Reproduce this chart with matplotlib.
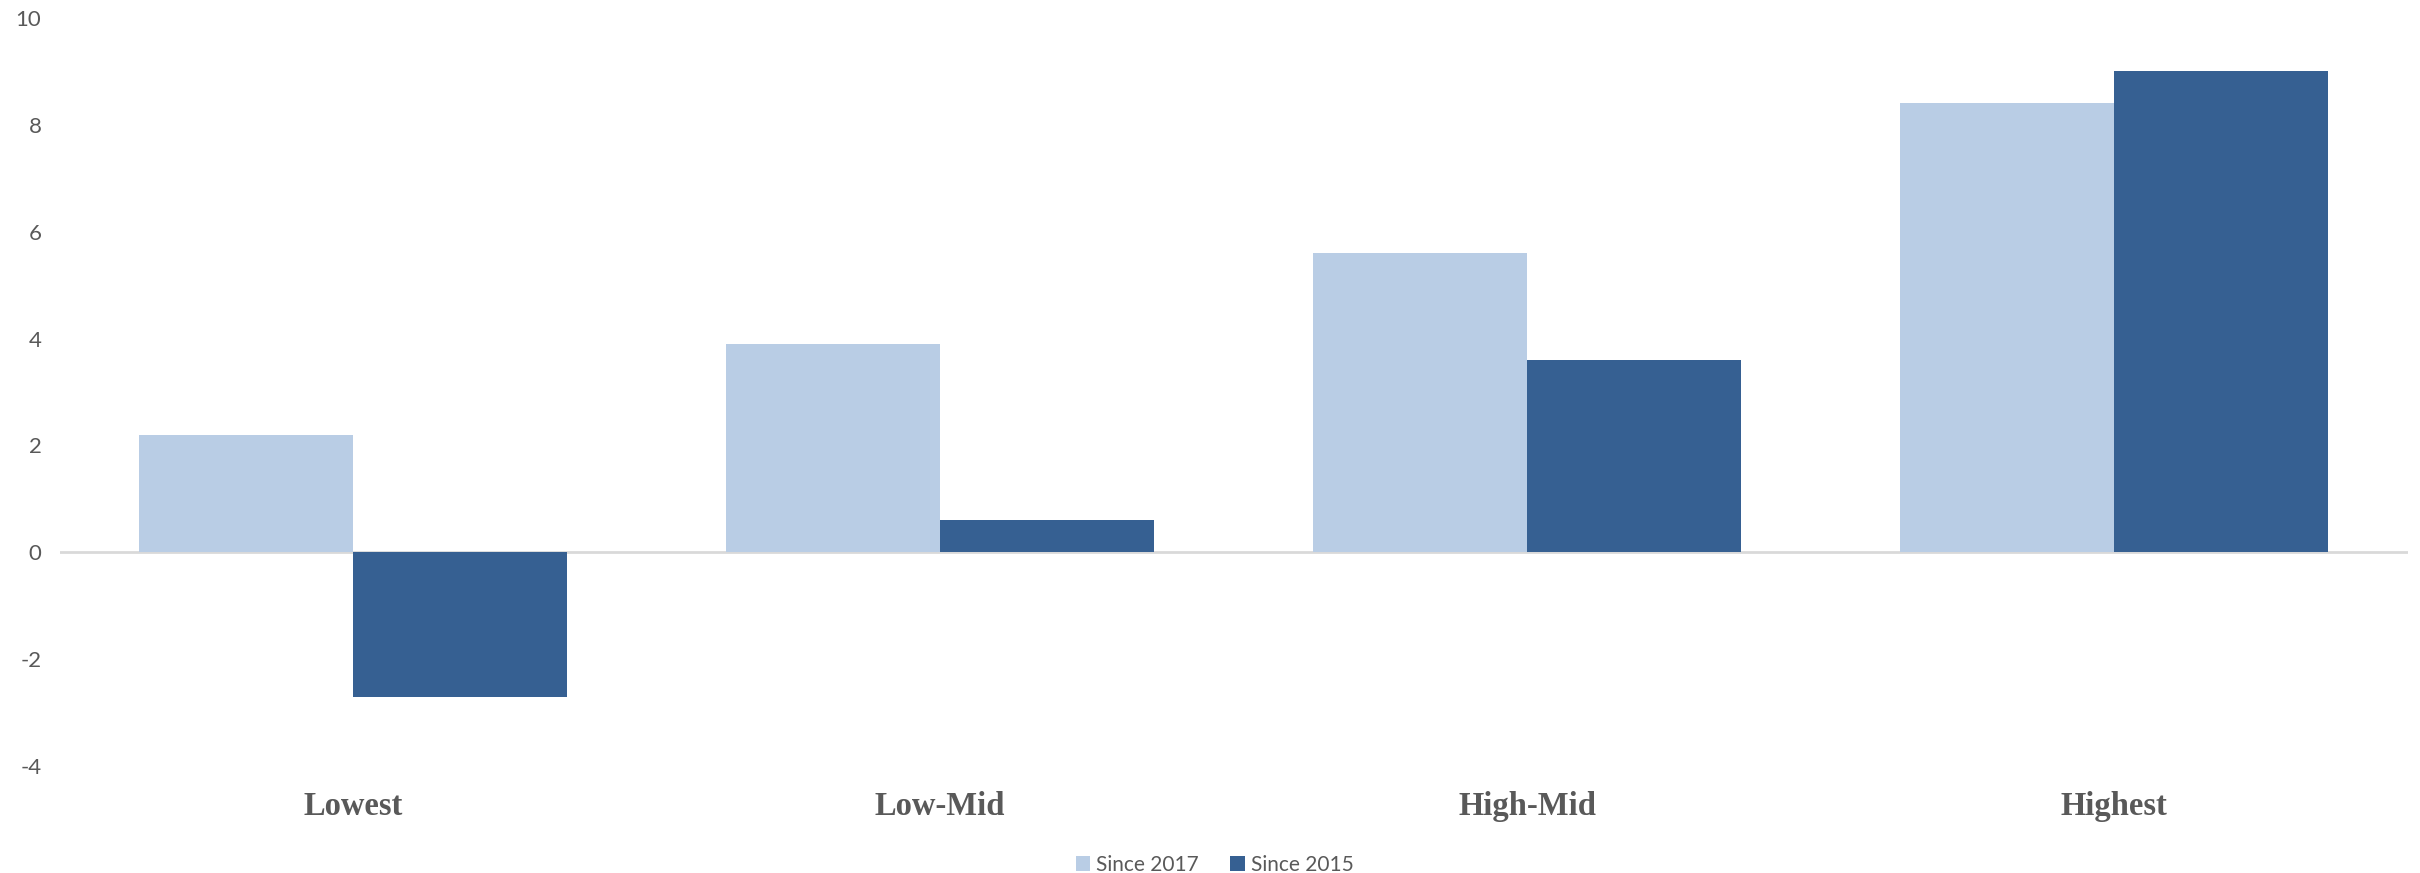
import matplotlib
matplotlib.use("Agg")
import matplotlib.pyplot as plt
import numpy as np

categories = ["Lowest", "Low-Mid", "High-Mid", "Highest"]
since_2017 = [2.2, 3.9, 5.6, 8.4]
since_2015 = [-2.7, 0.6, 3.6, 9.0]
yticks = [-4, -2, 0, 2, 4, 6, 8, 10]

light = "#B9CDE5"
dark = "#366092"
gray = "#595959"

fig = plt.figure(figsize=(24.2, 8.73), dpi=100)
ax = fig.add_axes([59.5 / 2420, 1 - 766 / 873, 2348 / 2420, (766 - 18) / 873])

x = np.arange(len(categories))
w = 0.365
ax.bar(x - w / 2, since_2017, width=w, color=light, label="Since 2017", zorder=2)
ax.bar(x + w / 2, since_2015, width=w, color=dark, label="Since 2015", zorder=2)

ax.axhline(0, color="#D9D9D9", linewidth=2, zorder=1)
ax.set_xlim(-0.5, len(categories) - 0.5)
ax.set_ylim(-4, 10)
ax.set_yticks(yticks)
ax.set_yticklabels([str(t) for t in yticks], fontsize=16, color=gray, family=["Lato", "DejaVu Sans"])
ax.set_xticks(x)
ax.set_xticklabels(categories, fontsize=23.5, color=gray, fontweight="bold", family=["Liberation Serif", "DejaVu Serif"])
ax.tick_params(axis="y", length=0, pad=13)
ax.tick_params(axis="x", length=0, pad=18)
for s in ax.spines.values():
    s.set_visible(False)

fig.legend(loc="center", bbox_to_anchor=(0.502, 1 - 865 / 873), ncol=2, frameon=False,
           prop={"family": ["Lato", "DejaVu Sans"], "size": 15},
           handlelength=0.7, handleheight=0.7, handletextpad=0.3, columnspacing=1.5,
           labelcolor=gray)

fig.savefig("out.png", dpi=100, facecolor="white")
